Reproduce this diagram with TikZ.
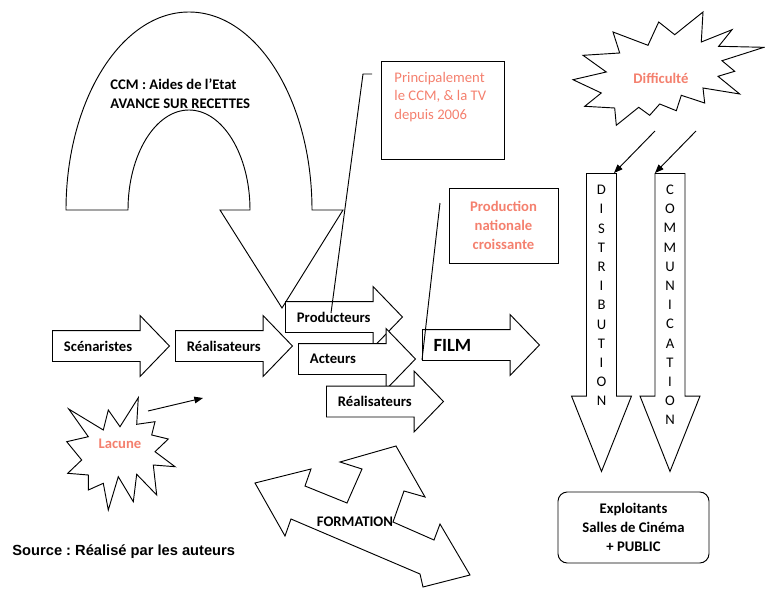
\documentclass[tikz,border=0pt]{standalone}
\usepackage{fontspec}
\setmainfont{Carlito}
\newfontfamily\sourcefont{Liberation Sans}
\usetikzlibrary{
    arrows.meta,
    positioning,
    shapes.arrows
}
\definecolor{salmon}{RGB}{244,128,110}

\begin{document}
\frenchspacing
\begin{tikzpicture}[
    x=0.75pt, y=-0.75pt,
    line width=0.7pt,
    blockarrow/.style={single arrow, draw, fill=white, anchor=tail, inner xsep=0pt, inner ysep=11.25pt, minimum height=87.75pt, minimum width=45pt, single arrow head extend=11.25pt, single arrow tip angle=92},
    downarrow/.style={single arrow, draw, fill=white, rotate=-90, anchor=tail, inner xsep=0pt, inner ysep=10.9pt, minimum height=223.5pt, minimum width=44.25pt, single arrow head extend=11.25pt, single arrow tip angle=43.4},
    arrowlabel/.style={font=\fontsize{11}{14}\selectfont\bfseries, inner sep=0pt},
    note/.style={font=\fontsize{11}{14}\selectfont, text=salmon, inner sep=0pt},
    notebox/.style={rectangle, draw, inner sep=0pt},
    letters/.style={font=\fontsize{11}{14.4}\selectfont, align=center, inner sep=0pt},
    burst/.style={draw, fill=white, line join=miter},
    link/.style={-{Triangle[length=6.5pt,width=5pt]}}
]
\useasboundingbox (0,0) rectangle (765,589);

% Aides de l'Etat: U-turn arrow
\draw[fill=white] (66,210) arc[start angle=180, end angle=360, x radius=123, y radius=198]
    -- (343,210) -- (282,308) -- (220,210) -- (250,210)
    arc[start angle=0, end angle=-180, x radius=61, y radius=100] -- cycle;
\node[arrowlabel, font=\fontsize{11}{14.25}\selectfont\bfseries, align=left, anchor=west] (aides) at (110,93.5) {CCM : Aides de l'Etat\\AVANCE SUR RECETTES};

% Production chain
\node[blockarrow] (scen) at (52,346) {};
\node[arrowlabel, right=8.6pt of scen.tail] (scen-txt) {Scénaristes};
\node[blockarrow] (real) at (175,346) {};
\node[arrowlabel, right=8.6pt of real.tail] (real-txt) {Réalisateurs};
\node[blockarrow] (prod) at (285,317) {};
\node[arrowlabel, right=8.6pt of prod.tail] (prod-txt) {Producteurs};
\node[blockarrow] (act) at (298,359) {};
\node[arrowlabel, right=8.6pt of act.tail] (act-txt) {Acteurs};
\node[blockarrow] (real2) at (326,401.5) {};
\node[arrowlabel, right=8.6pt of real2.tail] (real2-txt) {Réalisateurs};
\node[blockarrow] (film) at (422,345) {};
\node[arrowlabel, font=\fontsize{14}{17}\selectfont\bfseries, right=8.3pt of film.tail] (film-txt) {FILM};

% Notes
\node[notebox, minimum width=92.25pt, minimum height=73.5pt] (tvbox) at (442.5,110) {};
\node[note, align=left, anchor=west] (tv-txt) at (394,97) {Principalement\\le CCM, \& la TV\\depuis 2006};
\node[notebox, note, font=\fontsize{11}{14}\selectfont\bfseries, align=center, minimum width=81.75pt, minimum height=56.25pt] (natbox) at (503.5,225.5) {Production\\nationale\\croissante};

% Difficulte
\draw[burst] (703,12) -- (701.3,42) -- (732,29.7) -- (718.7,46.3) -- (764,47.3) -- (722,60.7)
    -- (734.7,71.3) -- (718,76.3) -- (739.7,94) -- (703,88) -- (704.7,103) -- (681.3,95.3)
    -- (676.3,110.7) -- (659.7,104) -- (649.7,115.3) -- (638.7,107.3) -- (616.3,125.3)
    -- (614.7,108) -- (584.7,106.3) -- (601.3,93) -- (573,79.7) -- (606.3,72) -- (583,55.3)
    -- (619.7,53) -- (613,32) -- (648,45.3) -- (658.7,22) -- (674.7,34.7) -- cycle;
\node[note, font=\fontsize{11}{14}\selectfont\bfseries] (diff) at (661,78) {Difficulté};

% Distribution / communication
\node[downarrow] (distrib) at (601.5,173) {};
\node[letters] (distrib-txt) at (601.5,295.5) {D\\I\\S\\T\\R\\I\\B\\U\\T\\I\\O\\N};
\node[downarrow] (commu) at (670,173) {};
\node[letters] (commu-txt) at (670,305) {C\\O\\M\\M\\U\\N\\I\\C\\A\\T\\I\\O\\N};

\coordinate (diff-out1) at (655,131);
\coordinate (distrib-in) at (614,173);
\coordinate (diff-out2) at (696,131);
\coordinate (commu-in) at (655,173);
\draw[link] (diff-out1) -- (distrib-in);
\draw[link] (diff-out2) -- (commu-in);

\node[draw, rounded corners=7pt, minimum width=113.25pt, minimum height=53.25pt, align=center, font=\fontsize{11}{14.25}\selectfont\bfseries] (public) at (633.5,527.5) {Exploitants\\Salles de Cinéma\\+ PUBLIC};

% Lacune
\draw[burst] (68.7,409) -- (103.3,430) -- (108.3,410) -- (120,426.7) -- (138.3,397.7) -- (136.7,424.3)
    -- (155,421.7) -- (151.7,435) -- (168.3,439) -- (155,451.7) -- (175,466.7) -- (153.3,465)
    -- (156.7,495) -- (136.7,474.3) -- (133.3,501.7) -- (118.3,476.7) -- (108.3,510) -- (103.3,483.3)
    -- (88.3,490) -- (88.3,475) -- (67.7,473.3) -- (81.7,460) -- (66.7,441.7) -- (88.3,436.7) -- cycle;
\node[note, font=\fontsize{11}{14}\selectfont\bfseries] (lacune) at (120,444) {Lacune};
\coordinate (lacune-out) at (148,411);
\coordinate (lacune-to) at (203,398);
\draw[link] (lacune-out) -- (lacune-to);

% Formation
\draw[fill=white, line join=miter] (255,483) -- (311,469) -- (305,486) -- (347,503) -- (362,469)
    -- (340,462) -- (396,446) -- (425,497) -- (404,491) -- (393,522) -- (434,540) -- (440,524)
    -- (470,575) -- (423,587) -- (420,574) -- (291,519) -- (285,536) -- cycle;
\node[arrowlabel] (formation) at (355,522) {FORMATION};

% Source
\node[font=\sourcefont\fontsize{11}{13}\selectfont\bfseries, anchor=west, inner sep=0pt] (source) at (12,552) {Source : Réalisé par les auteurs};

% Callout lines
\coordinate (tv-start) at (372,74);
\coordinate (tv-bend) at (363,74);
\coordinate (tv-end) at (331,313);
\draw (tv-start) -- (tv-bend) -- (tv-end);
\coordinate (nat-start) at (440,203);
\coordinate (nat-end) at (422,360);
\draw (nat-start) -- (nat-end);

\end{tikzpicture}
\end{document}
